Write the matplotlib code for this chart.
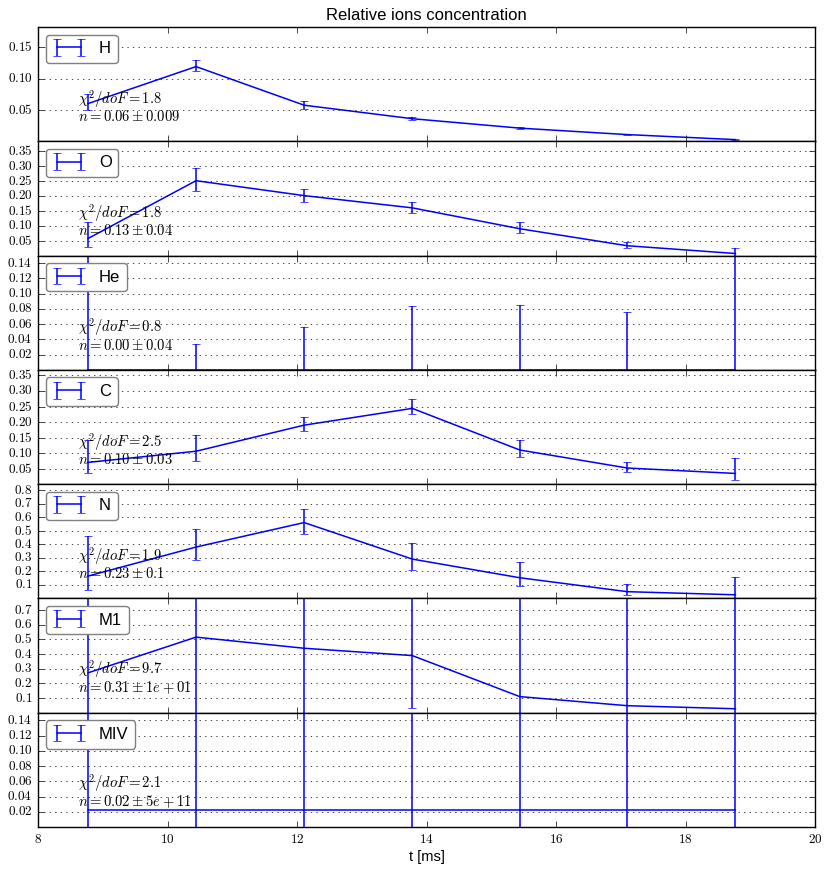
import numpy as np
import matplotlib
matplotlib.use('Agg')
import matplotlib.pyplot as plt
from matplotlib.ticker import MultipleLocator, FuncFormatter

plt.style.use('classic')
plt.rcParams['figure.facecolor'] = 'white'
plt.rcParams['savefig.facecolor'] = 'white'
plt.rcParams['mathtext.fontset'] = 'cm'

# time of each sample [ms]
t = [8.77, 10.44, 12.11, 13.78, 15.44, 17.10, 18.77]

ions = ['H', 'O', 'He', 'C', 'N', 'M1', 'MIV']

H_val = [0.060, 0.119, 0.0575, 0.036, 0.021, 0.0107, 0.0027]
H_lo = [0.0105, 0.007, 0.0055, 0.0025, 0.0015, 0.001, 0.001]
H_hi = [0.0146, 0.010, 0.0065, 0.0025, 0.0015, 0.001, 0.001]

O_val = [0.057, 0.251, 0.201, 0.160, 0.090, 0.033, 0.007]
O_lo = [0.027, 0.034, 0.021, 0.017, 0.013, 0.007, 0.017]
O_hi = [0.054, 0.043, 0.023, 0.021, 0.022, 0.011, 0.017]

He_val = [0.0, 0.0, 0.0, 0.0, 0.0, 0.0, 0.0]
He_lo = [0.3, 0.034, 0.056, 0.084, 0.085, 0.0756, 0.3]
He_hi = [0.3, 0.034, 0.056, 0.084, 0.085, 0.0756, 0.3]

C_val = [0.070, 0.106, 0.190, 0.244, 0.110, 0.052, 0.0345]
C_lo = [0.035, 0.033, 0.020, 0.019, 0.024, 0.014, 0.0195]
C_hi = [0.072, 0.053, 0.027, 0.029, 0.031, 0.020, 0.0505]

N_val = [0.165, 0.380, 0.561, 0.291, 0.153, 0.050, 0.027]
N_lo = [0.106, 0.096, 0.082, 0.081, 0.059, 0.028, 0.06]
N_hi = [0.296, 0.136, 0.103, 0.119, 0.116, 0.056, 0.131]

M1_val = [0.272, 0.516, 0.440, 0.390, 0.110, 0.048, 0.027]
M1_lo = [2.0, 2.0, 2.0, 0.356, 2.0, 2.0, 2.0]
M1_hi = [2.0, 2.0, 2.0, 2.0, 2.0, 2.0, 2.0]

MIV_val = [0.022, 0.022, 0.022, 0.022, 0.022, 0.022, 0.022]
MIV_lo = [5.0, 5.0, 5.0, 5.0, 5.0, 5.0, 5.0]
MIV_hi = [5.0, 5.0, 5.0, 5.0, 5.0, 5.0, 5.0]

chi2 = ['1.8', '1.8', '0.8', '2.5', '1.9', '9.7', '2.1']
fit_n = [r'0.06 \pm 0.009', r'0.13 \pm 0.04', r'0.00 \pm 0.04', r'0.10 \pm 0.03',
         r'0.23 \pm 0.1', r'0.31 \pm 1e+01', r'0.02 \pm 5e+11']

vals = [H_val, O_val, He_val, C_val, N_val, M1_val, MIV_val]
los = [H_lo, O_lo, He_lo, C_lo, N_lo, M1_lo, MIV_lo]
his = [H_hi, O_hi, He_hi, C_hi, N_hi, M1_hi, MIV_hi]
ylims = [0.182, 0.383, 0.15, 0.368, 0.845, 0.78, 0.15]
ysteps = [0.05, 0.05, 0.02, 0.05, 0.1, 0.1, 0.02]
yfmt = ['%.2f', '%.2f', '%.2f', '%.2f', '%.1f', '%.1f', '%.2f']

fig, axes = plt.subplots(7, 1, sharex=True, figsize=(8.32, 8.72), dpi=100)
fig.subplots_adjust(left=0.0457, right=0.9796, top=0.969, bottom=0.0516, hspace=0)

for i, ax in enumerate(axes):
    ax.errorbar(t, vals[i], yerr=[los[i], his[i]], color='b', capsize=3,
                linewidth=1.1, elinewidth=1.1, label=ions[i])
    ax.set_ylim(0, ylims[i])
    ax.set_xlim(8, 20)
    ax.yaxis.set_major_locator(MultipleLocator(ysteps[i]))
    f = yfmt[i]
    ax.yaxis.set_major_formatter(FuncFormatter(
        lambda v, p, f=f: '' if abs(v) < 1e-9 else '$' + (f % v) + '$'))
    ax.yaxis.grid(True, color='k', linestyle=':', linewidth=0.5)
    ax.xaxis.grid(False)
    ax.tick_params(labelsize=9.5)
    ax.text(0.052, 0.15, r'$\chi^2/doF = ' + chi2[i] + '$\n$n = ' + fit_n[i] + '$',
            transform=ax.transAxes, fontsize=10.5, va='bottom', ha='left',
            linespacing=0.95)
    leg = ax.legend(loc='upper left', numpoints=2, fancybox=True,
                    borderaxespad=0.45,
                    prop={'family': 'Liberation Sans', 'size': 12})
    leg.get_frame().set_edgecolor('0.5')

axes[-1].xaxis.set_major_locator(MultipleLocator(2))
axes[-1].xaxis.set_major_formatter(FuncFormatter(lambda v, p: '$%d$' % v))
axes[-1].set_xlabel('t [ms]', family='Liberation Sans', fontsize=10.5, labelpad=3)
axes[0].set_title('Relative ions concentration', family='Liberation Sans', fontsize=12)

fig.savefig('out.png', dpi=100)
